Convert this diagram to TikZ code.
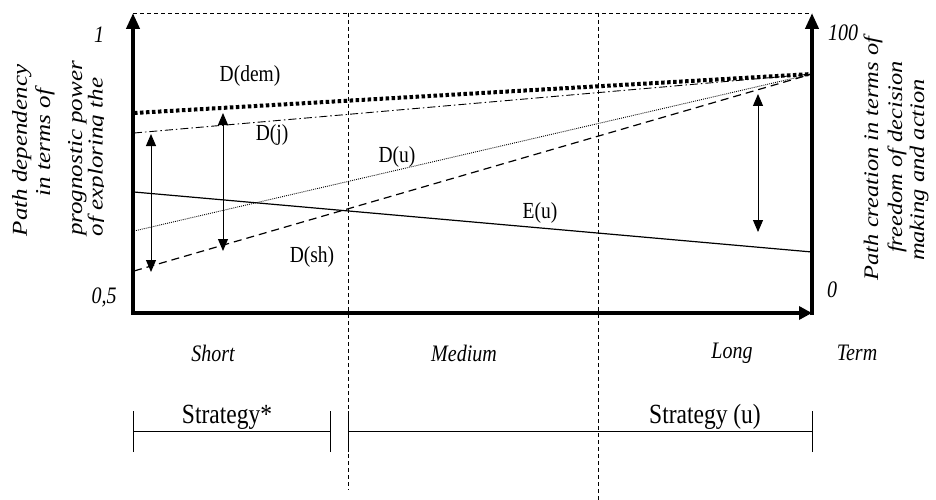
\documentclass[tikz,border=0pt]{standalone}
\usepackage{fontspec}
\setmainfont{Liberation Serif}
\usetikzlibrary{arrows.meta}
\newcommand\vst[1]{\scalebox{1}[1.18]{#1}}
\newcommand\hst[1]{\scalebox{1.18}[1]{#1}}
\begin{document}
\begin{tikzpicture}[x=1pt,y=-1pt,
  axis/.style={line width=4pt, line join=miter},
  bigtip/.style={-{Triangle[length=16pt,width=13pt]}},
  frameline/.style={line width=0.9pt, dash pattern=on 4pt off 3pt},
  demline/.style={line width=4pt, dash pattern=on 3.5pt off 2.5pt},
  jline/.style={line width=0.9pt, dash pattern=on 8pt off 3pt on 1.5pt off 3pt},
  uline/.style={line width=0.9pt, dash pattern=on 0.9pt off 1.1pt},
  shline/.style={line width=1.2pt, dash pattern=on 8pt off 5pt},
  eline/.style={line width=1.2pt},
  gaparrow/.style={line width=1pt, {Triangle[length=12pt,width=10pt]}-{Triangle[length=12pt,width=10pt]}},
  bracket/.style={line width=1pt},
  curvelbl/.style={font=\fontsize{19.5}{22}\selectfont, inner sep=0pt},
  termlbl/.style={font=\fontsize{20}{22}\selectfont\itshape, inner sep=0pt},
  stratlbl/.style={font=\fontsize{23.5}{26}\selectfont, inner sep=0pt},
  axislbl/.style={inner sep=0pt, rotate=90, anchor=base, font=\fontsize{21.2}{24}\selectfont\itshape},
  axislblr/.style={axislbl, font=\fontsize{20.7}{24}\selectfont\itshape},
]
\useasboundingbox (0,0) rectangle (936,500);

% coordinates
\coordinate (Ltop) at (133,13);
\coordinate (O) at (133,313);
\coordinate (Rbot) at (812,313);
\coordinate (Rbase) at (812,315);
\coordinate (Rtop) at (812,13);
\coordinate (V1top) at (348,13);
\coordinate (V1bot) at (348,490);
\coordinate (V2top) at (598,13);
\coordinate (V2bot) at (598,500);
\coordinate (conv) at (812,74);
\coordinate (demL) at (134,113);
\coordinate (jL) at (134,133);
\coordinate (uL) at (134,231);
\coordinate (shL) at (134,271);
\coordinate (eL) at (134,192);
\coordinate (eR) at (812,252);

% frame and dividers
\draw[frameline] (Ltop) -- (Rtop);
\draw[frameline] (V1top) -- (V1bot);
\draw[frameline] (V2top) -- (V2bot);

% curves
\draw[demline] (demL) -- (conv);
\draw[jline] (jL) -- (conv);
\draw[uline] (uL) -- (conv);
\draw[shline] (shL) -- (conv);
\draw[eline] (eL) -- (eR);

% axes
\draw[axis, {Triangle[length=16pt,width=13pt]}-{Triangle[length=13pt,width=13pt]}] (Ltop) -- (O) -- (Rbot);
\draw[axis, bigtip] (Rbase) -- (Rtop);

% gap arrows
\coordinate (a1t) at (151,134); \coordinate (a1b) at (151,272);
\coordinate (a2t) at (223,113); \coordinate (a2b) at (223,251);
\coordinate (a3t) at (758,94);  \coordinate (a3b) at (758,232);
\draw[gaparrow] (a1t) -- (a1b);
\draw[gaparrow] (a2t) -- (a2b);
\draw[gaparrow] (a3t) -- (a3b);

% curve labels
\node[curvelbl] (ldem) at (250,76) {\vst{D(dem)}};
\node[curvelbl] (lj) at (272,135) {\vst{D(j)}};
\node[curvelbl] (lu) at (397,157) {\vst{D(u)}};
\node[curvelbl] (lsh) at (312,257) {\vst{D(sh)}};
\node[curvelbl] (le) at (540,213) {\vst{E(u)}};

% scale numbers
\node[termlbl] (n1) at (99,35) {\vst{1}};
\node[termlbl] (n05) at (104,297) {\vst{0,5}};
\node[termlbl] (n100) at (843,33) {\vst{100}};
\node[termlbl] (n0) at (832,290) {\vst{0}};

% term labels
\node[termlbl] (tshort) at (213,353) {\vst{Short}};
\node[termlbl] (tmed) at (464,353) {\vst{Medium}};
\node[termlbl] (tlong) at (732,353) {\vst{Long}};
\node[termlbl] (tterm) at (857,353) {\vst{Term}};

% axis titles
\begin{scope}
\clip (0,0) rectangle (103.5,320);
\node[axislbl] (ylab1) at (27,150.5) {\hst{Path dependency}};
\node[axislbl] (ylab2) at (50,142.5) {\hst{in terms of}};
\node[axislbl] (ylab3) at (82,148.5) {\hst{prognostic power}};
\node[axislbl] (ylab4) at (102.5,157) {\hst{of exploring the}};
\end{scope}
\node[axislblr] (y2lab1) at (878,158.5) {\hst{Path creation in terms of}};
\node[axislblr] (y2lab2) at (902,157) {\hst{freedom of decision}};
\node[axislblr] (y2lab3) at (924,170) {\hst{making and action}};

% strategy brackets
\coordinate (b1l) at (133,431); \coordinate (b1r) at (330,431);
\coordinate (b2l) at (348,431); \coordinate (b2r) at (812,431);
\draw[bracket] (b1l) -- (b1r);
\draw[bracket] (b2l) -- (b2r);
\foreach \p in {b1l,b1r,b2l,b2r}
  \draw[bracket] ([yshift=-21pt]\p) -- ([yshift=20pt]\p);
\node[stratlbl] (s1) at (227,417) {\vst{Strategy*}};
\node[stratlbl] (s2) at (705,417) {\vst{Strategy (u)}};
\end{tikzpicture}
\end{document}
